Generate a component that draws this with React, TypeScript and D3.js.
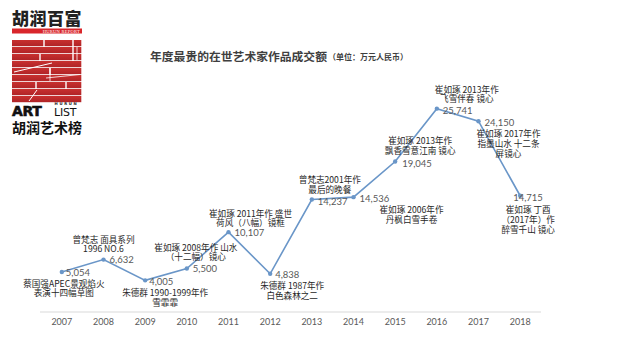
import React from "react";
import * as d3 from "d3";

const years = ["2007", "2008", "2009", "2010", "2011", "2012", "2013", "2014", "2015", "2016", "2017", "2018"];
const values = [5054, 6632, 4005, 5500, 10107, 4838, 14237, 14536, 19045, 25741, 24150, 14715];
const notes: string[][] = [
  ["蔡国强APEC景观焰火", "表演十四幅草图"],
  ["曾梵志 面具系列", "1996 NO.6"],
  ["朱德群 1990-1999年作", "雪霏霏"],
  ["崔如琢 2008年作 山水", "（十二幅）镜心"],
  ["崔如琢 2011年作 盛世", "荷风（八幅）镜框"],
  ["朱德群 1987年作", "白色森林之二"],
  ["曾梵志2001年作", "最后的晚餐"],
  ["崔如琢 2006年作", "丹枫白雪手卷"],
  ["崔如琢 2013年作", "飘香雪意江南 镜心"],
  ["崔如琢 2013年作", "飞雪伴春 镜心"],
  ["崔如琢 2017年作", "指墨山水 十二条", "屏镜心"],
  ["崔如琢 丁酉", "（2017年）作", "醉雪千山 镜心"],
];
const titleText = "年度最贵的在世艺术家作品成交额";
const unitText = "（单位：万元人民币）";

// label layout offsets relative to each point (layout, not data)
const valueOffsets = [[4, 0], [6, 0], [4, 1], [6, 0], [6, 0.5], [5, 0.5], [6, 1.5], [6, 1], [7, 1.5], [6, 1.5], [6, 1], [-7, 1.5]];
const noteOffsets = [[2, 10.5], [0, -21], [20, 12], [9, -22], [22, -19.5], [22, 11.5], [18, -20.5], [58, 12], [25, -21.5], [30, -20], [30, 12], [8, 13.5]];

const W = 640, H = 359;
const CJK = "'Noto Sans CJK SC', 'Noto Sans', sans-serif";
const NUM = "Lato, 'Noto Sans', sans-serif";
const lineColor = "#6a96c8";

function Logo() {
  const rows = [40, 47, 54, 61, 68, 75, 82, 89, 96];
  const splits: number[][] = [
    [44, 73],
    [73],
    [40, 73],
    [],
    [50],
    [],
    [36, 66],
    [],
    [],
  ];
  const bricks: { x: number; y: number; w: number }[] = [];
  rows.forEach((y, i) => {
    const pts = [12, ...splits[i], 82];
    for (let k = 0; k < pts.length - 1; k++) {
      bricks.push({ x: pts[k] + (k ? 0.7 : 0), y, w: pts[k + 1] - pts[k] - (k ? 0.7 : 0) - 0.7 });
    }
  });
  return (
    <g>
      <text x={47} y={25} textAnchor="middle" fontFamily={CJK} fontWeight={900} fontSize={17} fill="#222" letterSpacing={0.5}>胡润百富</text>
      <rect x={12} y={28.5} width={70} height={5} fill="#d9262b" />
      <text x={80} y={32.6} textAnchor="end" fontFamily="'Liberation Serif', serif" fontSize={4.6} fill="#fff" letterSpacing={0.2}>HURUN REPORT</text>
      <defs>
        <linearGradient id="rg" x1="0" x2="0" y1="0" y2="1">
          <stop offset="0" stopColor="#c8302f" />
          <stop offset="1" stopColor="#b02427" />
        </linearGradient>
      </defs>
      {bricks.map((b, i) => (
        <rect key={i} x={b.x} y={b.y} width={b.w} height={6.2} fill="url(#rg)" />
      ))}
      <line x1={14} y1={72} x2={52} y2={63} stroke="#fff" strokeWidth={1} />
      <line x1={46} y1={78} x2={80} y2={74.5} stroke="#fff" strokeWidth={0.8} />
      <line x1={29} y1={101} x2={37} y2={90} stroke="#fff" strokeWidth={1} />
      <line x1={77} y1={47} x2={77} y2={60} stroke="#fff" strokeWidth={0.8} />
      <line x1={50} y1={68} x2={50} y2={81} stroke="#fff" strokeWidth={0.8} />
      <text x={12} y={116} fontFamily="'DejaVu Sans', sans-serif" fontWeight="bold" fontSize={14} fill="#111" stroke="#111" strokeWidth={0.6} letterSpacing={-0.4}>ART</text>
      <text x={54} y={116} fontFamily="'DejaVu Sans', sans-serif" fontSize={11} fill="#111" letterSpacing={-0.2}>LIST</text>
      <text x={54.5} y={104.5} fontFamily="'DejaVu Sans', sans-serif" fontWeight={700} fontSize={3.8} fill="#111" letterSpacing={1.7}>HURUN</text>
      <text x={47} y={133} textAnchor="middle" fontFamily="'Noto Sans CJK SC', serif" fontWeight={700} fontSize={14} fill="#111">胡润艺术榜</text>
    </g>
  );
}

export default function App() {
  const x = d3.scaleBand<string>().domain(years).range([41, 541]);
  const y = d3.scaleLinear().domain([0, 30000]).range([312, 75]);
  const cx = (i: number) => (x(years[i]) as number) + x.bandwidth() / 2;
  const cy = (i: number) => y(values[i]);
  const fmt = d3.format(",");
  const line = d3
    .line<number>()
    .x((_, i) => cx(i))
    .y((d) => y(d));

  return (
    <svg width={W} height={H} style={{ position: "fixed", left: 0, top: 0, background: "#fff" }}>
      <rect width={W} height={H} fill="#fff" />
      <Logo />
      <text x={150} y={60.5} fontFamily={CJK} fontWeight={700} fontSize={11.8} fill="#3f3f3f">
        {titleText}
        <tspan fontSize={8} dx={1} dy={-0.5}>{unitText}</tspan>
      </text>
      <line x1={40} x2={541} y1={312} y2={312} stroke="#d9d9d9" strokeWidth={1} />
      {years.map((yr, i) => (
        <text key={yr} x={cx(i)} y={325} textAnchor="middle" fontFamily={NUM} fontSize={9} fill="#595959">
          {yr}
        </text>
      ))}
      <path d={line(values) || ""} fill="none" stroke={lineColor} strokeWidth={1.6} />
      {values.map((v, i) => (
        <circle key={i} cx={cx(i)} cy={cy(i)} r={2.2} fill={lineColor} />
      ))}
      {values.map((v, i) => (
        <text
          key={"v" + i}
          x={cx(i) + valueOffsets[i][0]}
          y={cy(i) + valueOffsets[i][1]}
          dominantBaseline="central"
          fontFamily={NUM}
          fontSize={9.5}
          fill="#595959"
        >
          {fmt(v)}
        </text>
      ))}
      {notes.map((ls, i) => (
        <text
          key={"n" + i}
          textAnchor="middle"
          dominantBaseline="central"
          fontFamily={CJK}
          fontSize={8.6}
          fill="#262626"
        >
          {ls.map((l, j) => (
            <tspan key={j} x={cx(i) + noteOffsets[i][0]} y={cy(i) + noteOffsets[i][1] + j * 9.8}>
              {l}
            </tspan>
          ))}
        </text>
      ))}
    </svg>
  );
}
